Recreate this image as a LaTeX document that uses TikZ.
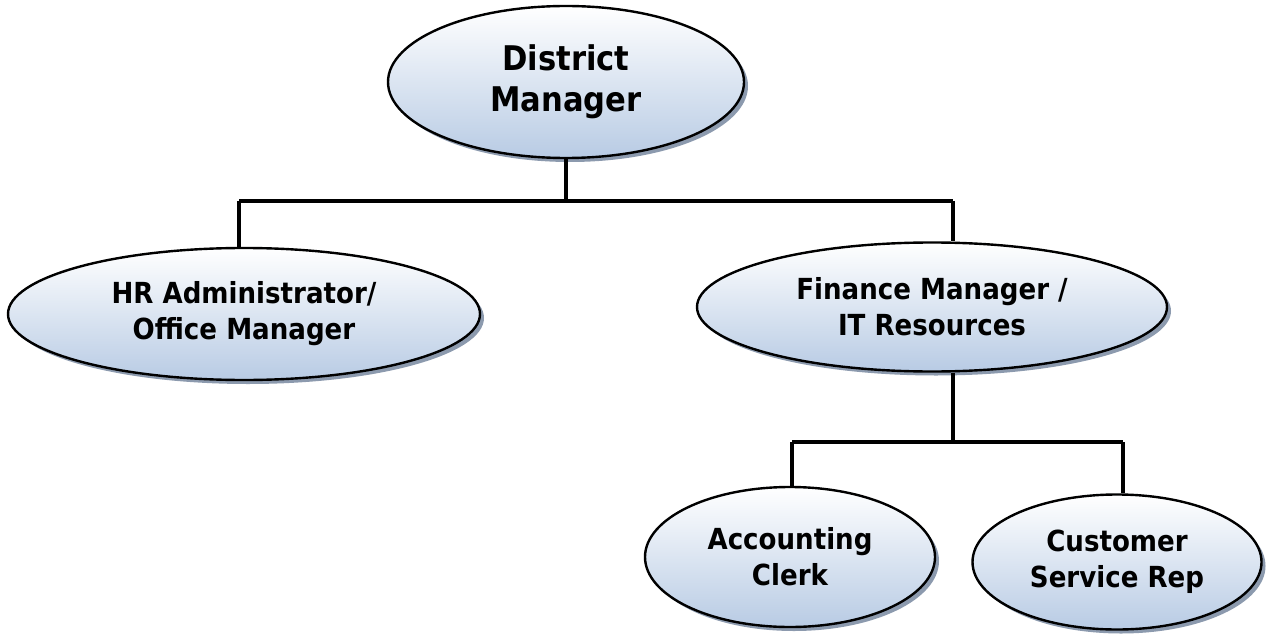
\documentclass[tikz,border=0pt]{standalone}
\usepackage{fontspec}
\setmainfont{DejaVu Sans}[FakeStretch=0.9]
\usetikzlibrary{shapes.geometric,shadows}
\definecolor{rolebottom}{HTML}{B8CBE4}
\definecolor{roleshadow}{HTML}{8C9AAE}
\tikzstyle{role}=[ellipse,draw,line width=1.2pt,inner sep=0pt,align=center,
  font=\bfseries\fontsize{14.5}{18}\selectfont,
  top color=white,bottom color=rolebottom,
  drop shadow={shadow xshift=2pt,shadow yshift=-2pt,fill=roleshadow,opacity=1}]
\tikzstyle{link}=[line width=1.7pt]

\begin{document}
\begin{tikzpicture}[x=0.5pt,y=-0.5pt]
\useasboundingbox (0,0) rectangle (1272,636);
\node[role, minimum width=178pt, minimum height=76pt, font=\bfseries\fontsize{17}{20.5}\selectfont] (DM) at (566,82) {District\\Manager};
\node[role, minimum width=236pt, minimum height=66pt] (HR) at (244,314) {HR Administrator/\\Office Manager};
\node[role, minimum width=235pt, minimum height=64.5pt] (FM) at (932,307) {Finance Manager /\\IT Resources};
\node[role, minimum width=145pt, minimum height=70pt] (AC) at (790,557) {Accounting\\Clerk};
\node[role, minimum width=144.5pt, minimum height=67.5pt] (CS) at (1117,562) {Customer\\Service Rep};
\coordinate (J1) at (566,201);
\coordinate (L1) at (239,201);
\coordinate (R1) at (953,201);
\coordinate (J2) at (953,442);
\coordinate (L2) at (792,442);
\coordinate (R2) at (1123,442);
\draw[link] (DM.south) -- (J1);
\draw[link] (L1) -- (R1);
\draw[link] (L1) -- (L1 |- HR.north);
\draw[link] (R1) -- (R1 |- FM.north);
\draw[link] (FM.south -| J2) -- (J2);
\draw[link] (L2) -- (R2);
\draw[link] (L2) -- (L2 |- AC.north);
\draw[link] (R2) -- (R2 |- CS.north);
\end{tikzpicture}
\end{document}
